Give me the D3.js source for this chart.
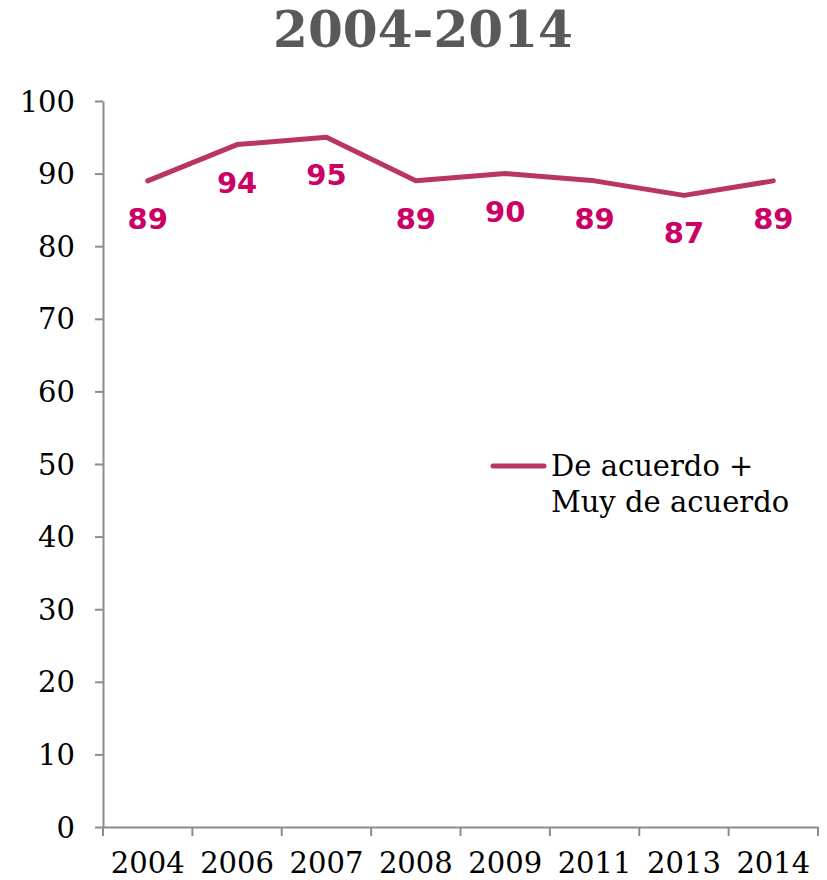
<!DOCTYPE html>
<html>
<head>
<meta charset="utf-8">
<script src="https://cdn.jsdelivr.net/npm/d3@7"></script>
<style>
  body { margin: 0; background: #fff; }
  svg { display: block; }
</style>
</head>
<body>
<script>
const title = "2004-2014";
const years = ["2004", "2006", "2007", "2008", "2009", "2011", "2013", "2014"];
const values = [89, 94, 95, 89, 90, 89, 87, 89];
const yTicks = [0, 10, 20, 30, 40, 50, 60, 70, 80, 90, 100];
const seriesName = ["De acuerdo +", "Muy de acuerdo"];

const W = 827, H = 880;
const svg = d3.select("body").append("svg").attr("width", W).attr("height", H);

const x = d3.scaleBand().domain(years).range([103, 818]).padding(0);
const y = d3.scaleLinear().domain([0, 100]).range([827, 101]);

const axisColor = "#8c8c8c";
const serif = "'DejaVu Serif', serif";

// Title
svg.append("text")
  .attr("x", 423).attr("y", 47)
  .attr("text-anchor", "middle")
  .attr("font-family", serif)
  .attr("font-weight", "bold")
  .attr("font-size", 50)
  .attr("fill", "#595959")
  .attr("textLength", 300)
  .attr("lengthAdjust", "spacingAndGlyphs")
  .text(title);

// Y axis
const yAxis = svg.append("g")
  .attr("transform", "translate(103,0)")
  .call(d3.axisLeft(y).tickValues(yTicks).tickSize(8).tickSizeOuter(0).tickPadding(20));
yAxis.select(".domain").attr("stroke", axisColor).attr("stroke-width", 2);
yAxis.selectAll(".tick line").attr("stroke", axisColor).attr("stroke-width", 2);
yAxis.selectAll(".tick text")
  .attr("font-family", serif).attr("font-size", 29).attr("fill", "#000")
  .attr("dy", "0.35em");

// X axis
const xAxis = svg.append("g")
  .attr("transform", "translate(0,827)")
  .call(d3.axisBottom(x).tickSize(0).tickPadding(0));
xAxis.select(".domain").attr("stroke", axisColor).attr("stroke-width", 2);
xAxis.selectAll(".tick text")
  .attr("font-family", serif).attr("font-size", 29).attr("fill", "#000")
  .attr("y", 46).attr("dy", 0);
// category boundary ticks
const bounds = years.map(d => x(d)).concat([x.range()[1]]);
xAxis.selectAll(".bound").data(bounds).enter().append("line")
  .attr("class", "bound")
  .attr("x1", d => d).attr("x2", d => d)
  .attr("y1", 0).attr("y2", 9)
  .attr("stroke", axisColor).attr("stroke-width", 2);

// Line
const lineColor = "#b8365f";
const line = d3.line()
  .x((d, i) => x(years[i]) + x.bandwidth() / 2)
  .y(d => y(d));
svg.append("path")
  .datum(values)
  .attr("d", line)
  .attr("fill", "none")
  .attr("stroke", lineColor)
  .attr("stroke-width", 5)
  .attr("stroke-linecap", "round")
  .attr("stroke-linejoin", "round");

// Data labels
svg.selectAll(".lbl").data(values).enter().append("text")
  .attr("class", "lbl")
  .attr("x", (d, i) => x(years[i]) + x.bandwidth() / 2)
  .attr("y", d => y(d) + 48)
  .attr("text-anchor", "middle")
  .attr("font-family", "'DejaVu Sans', sans-serif")
  .attr("font-weight", "bold")
  .attr("font-size", 29)
  .attr("fill", "#cc0066")
  .text(d => d);

// Legend
svg.append("line")
  .attr("x1", 493).attr("x2", 544)
  .attr("y1", 466).attr("y2", 466)
  .attr("stroke", lineColor).attr("stroke-width", 5)
  .attr("stroke-linecap", "round");
svg.selectAll(".leg").data(seriesName).enter().append("text")
  .attr("class", "leg")
  .attr("x", 551)
  .attr("y", (d, i) => 476 + i * 36)
  .attr("font-family", serif)
  .attr("font-size", 29)
  .attr("fill", "#000")
  .text(d => d);
</script>
</body>
</html>
